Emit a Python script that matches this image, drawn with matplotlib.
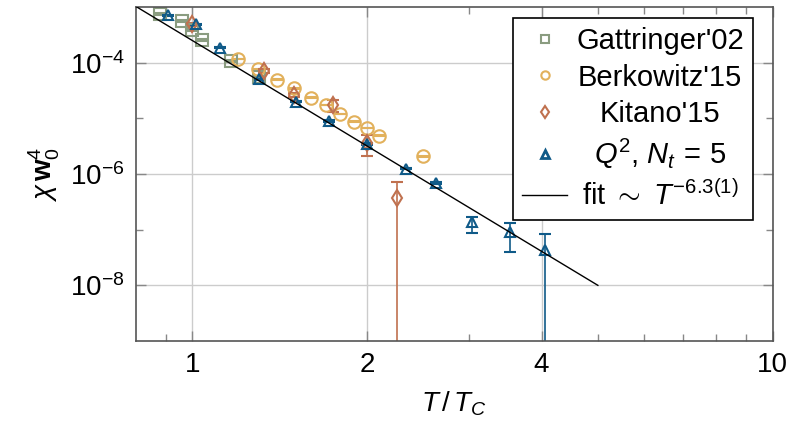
import numpy as np
import matplotlib
matplotlib.use("Agg")
import matplotlib.pyplot as plt
from matplotlib.ticker import FixedLocator, FixedFormatter, LogFormatterSciNotation, NullFormatter
from matplotlib.lines import Line2D

plt.rcParams['font.family'] = ['Liberation Sans', 'DejaVu Sans']
plt.rcParams['mathtext.fontset'] = 'custom'
plt.rcParams['mathtext.rm'] = 'Liberation Sans'
plt.rcParams['mathtext.it'] = 'Liberation Sans:italic'
plt.rcParams['mathtext.bf'] = 'Liberation Sans:bold'

# Gattringer'02
gat_T = [0.882, 0.961, 1.0, 1.04, 1.167, 1.305]
gat_y = [7.5e-4, 5.7e-4, 3.9e-4, 2.55e-4, 1.07e-4, 5.5e-5]
gat_err = [2.5e-5, 2.0e-5, 1.3e-5, 9e-6, 3.5e-6, 2e-6]

# Berkowitz'15
ber_T = [1.2, 1.3, 1.4, 1.5, 1.6, 1.7, 1.8, 1.9, 2.0, 2.1, 2.5]
ber_y = [1.16e-4, 7.6e-5, 5.0e-5, 3.47e-5, 2.36e-5, 1.73e-5, 1.21e-5, 8.8e-6, 6.8e-6, 4.9e-6, 2.07e-6]
ber_err = [1e-6, 7e-7, 5e-7, 3e-7, 2e-7, 1.5e-7, 1e-7, 8e-8, 6e-8, 4e-8, 2e-8]

# Kitano'15
kit_T = [1.0, 1.33, 1.5, 1.75, 2.0, 2.25]
kit_y = [4.9e-4, 7.1e-5, 2.64e-5, 1.73e-5, 3.6e-6, 3.7e-7]
kit_lo = [3e-5, 6e-6, 2.5e-6, 4.1e-6, 1.5e-6, 3.7e-7]
kit_hi = [3e-5, 6e-6, 2.5e-6, 4.2e-6, 1.45e-6, 3.5e-7]

# Q^2, N_t = 5
q2_T = [0.908, 1.016, 1.118, 1.305, 1.509, 1.721, 2.0, 2.333, 2.63, 3.04, 3.53, 4.05]
q2_y = [7.2e-4, 4.9e-4, 1.86e-4, 5.1e-5, 2.0e-5, 9.0e-6, 3.5e-6, 1.25e-6, 6.9e-7, 1.36e-7, 9.0e-8, 4.3e-8]
q2_lo = [1.5e-5, 1e-5, 4e-6, 1.2e-6, 5e-7, 2.5e-7, 1e-7, 4e-8, 3e-8, 4.8e-8, 5.1e-8, 4.3e-8]
q2_hi = [1.5e-5, 1e-5, 4e-6, 1.2e-6, 5e-7, 2.5e-7, 1e-7, 4e-8, 3e-8, 3.4e-8, 4.2e-8, 3.9e-8]

# fit ~ T^-6.3
fit_exp = -6.3
fit_amp = 2.53e-4
fit_T = [0.8, 5.0]

c_gat = '#8a9c80'
c_ber = '#e2b15c'
c_kit = '#c0714f'
c_q2 = '#0f5a88'

fig = plt.figure(figsize=(7.9, 4.23), dpi=100)
ax = fig.add_axes([0.172, 0.194, 0.806, 0.789])
ax.set_xscale('log')
ax.set_yscale('log', nonpositive='clip')

ekw = dict(ls='none', capsize=4, elinewidth=1.2, capthick=1.2, mew=1.5, mfc='none')
ax.errorbar(gat_T, gat_y, yerr=gat_err, marker='s', ms=8, color=c_gat, **ekw)
ax.errorbar(ber_T, ber_y, yerr=ber_err, marker='o', ms=9, color=c_ber, **ekw)
ax.errorbar(kit_T, kit_y, yerr=[kit_lo, kit_hi], marker='d', ms=8, color=c_kit, **ekw)
ax.errorbar(q2_T, q2_y, yerr=[q2_lo, q2_hi], marker='^', ms=7.5, color=c_q2, **ekw)

fit_x = np.array(fit_T)
ax.plot(fit_x, fit_amp * fit_x ** fit_exp, color='black', lw=1, zorder=5)

ax.set_xlim(0.8, 10)
ax.set_ylim(1e-9, 1e-3)

ax.xaxis.set_major_locator(FixedLocator([1, 2, 4, 10]))
ax.xaxis.set_major_formatter(FixedFormatter(['1', '2', '4', '10']))
ax.xaxis.set_minor_locator(FixedLocator([0.9, 3, 5, 6, 7, 8, 9]))
ax.xaxis.set_minor_formatter(NullFormatter())
ax.yaxis.set_major_locator(FixedLocator([1e-8, 1e-6, 1e-4]))
ax.yaxis.set_major_formatter(LogFormatterSciNotation())
ax.yaxis.set_minor_locator(FixedLocator([1e-7, 1e-5]))
ax.yaxis.set_minor_formatter(NullFormatter())

ax.tick_params(which='both', direction='in', top=True, right=True,
               color='#888888', labelsize=20, pad=8)
ax.tick_params(which='major', length=7, width=1)
ax.tick_params(which='minor', length=5, width=1)
for s in ax.spines.values():
    s.set_color('#555555')
    s.set_linewidth(1.2)
ax.grid(True, which='major', color='#cccccc', lw=1)
ax.set_axisbelow(True)

ax.set_xlabel(r'$T\,/\,T_C$', fontsize=20, labelpad=8)
ax.set_ylabel(r'$\chi\,\mathbf{w}_0^4$', fontsize=20, labelpad=6)

handles = [
    Line2D([], [], ls='none', marker='s', ms=6, mfc='none', mew=1.5, color=c_gat),
    Line2D([], [], ls='none', marker='o', ms=6, mfc='none', mew=1.5, color=c_ber),
    Line2D([], [], ls='none', marker='d', ms=6, mfc='none', mew=1.5, color=c_kit),
    Line2D([], [], ls='none', marker='^', ms=6, mfc='none', mew=2, color=c_q2),
    Line2D([], [], color='black', lw=1),
]
labels = ["Gattringer'02", "Berkowitz'15", "Kitano'15", r'$Q^2$, $N_t\,=\,5$',
          r'fit $\sim$ $T^{-6.3(1)}$']
leg = ax.legend(handles, labels, loc='upper right', bbox_to_anchor=(0.9686, 0.967),
                fontsize=21, frameon=True, fancybox=False, edgecolor='black',
                framealpha=1, handlelength=1.55, handletextpad=0.3,
                labelspacing=0.3, borderpad=0.3, borderaxespad=0)
leg.get_frame().set_linewidth(1.2)

# centre the legend labels in their column, as in the original
renderer = fig.canvas.get_renderer()
widths = [t.get_window_extent(renderer).width for t in leg.get_texts()]
wmax = max(widths)
for t, w in zip(leg.get_texts(), widths):
    t.set_x((wmax - w) / 2)

fig.savefig('out.png', dpi=100)
